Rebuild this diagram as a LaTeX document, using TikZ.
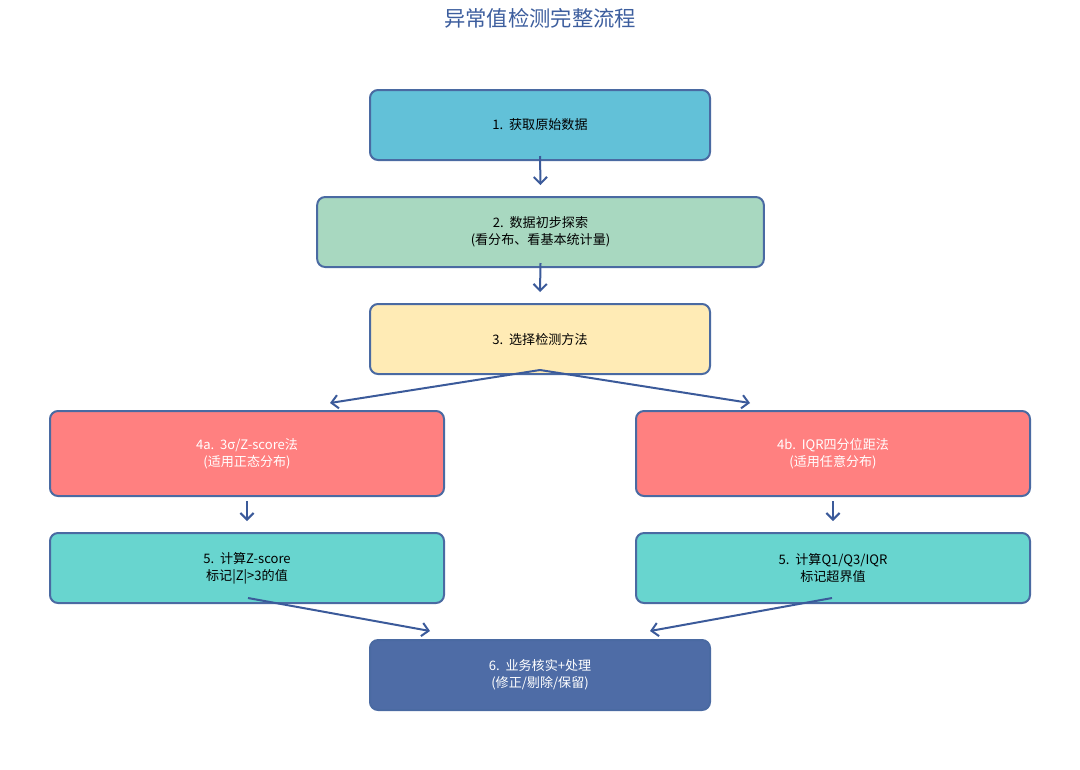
\documentclass[tikz,border=0pt]{standalone}
\usepackage{fontspec}
\setmainfont{Noto Sans CJK SC}
\usetikzlibrary{arrows.meta}
\definecolor{edge}{HTML}{4A6AA2}
\definecolor{arr}{HTML}{3B5A9A}
\definecolor{titlec}{HTML}{3D5E9E}
\definecolor{cA}{HTML}{62C1D8}
\definecolor{cB}{HTML}{A8D8C0}
\definecolor{cC}{HTML}{FFEBB5}
\definecolor{cD}{HTML}{FF8080}
\definecolor{cE}{HTML}{68D5CF}
\definecolor{cF}{HTML}{4E6CA6}
\tikzset{
  box/.style={draw=edge, line width=1.5pt, rounded corners=6pt, align=center,
    font=\fontsize{9.8}{12.5}\selectfont, inner sep=0pt},
  flow/.style={draw=arr, line width=1.5pt, -{Straight Barb[length=5pt,width=10pt,line width=1.5pt]}}
}
\begin{document}
\begin{tikzpicture}[x=0.75pt,y=-0.75pt]
\useasboundingbox (0,0) rectangle (1080,769);
\node[text=titlec, font=\fontsize{16}{19}\selectfont] (title) at (540,18) {异常值检测完整流程};
\node[box, fill=cA, minimum width=255pt, minimum height=52.5pt] (n1) at (540,125) {1.\ \ 获取原始数据};
\node[box, fill=cB, minimum width=335pt, minimum height=52.5pt] (n2) at (540.5,232) {2.\ \ 数据初步探索\\(看分布、看基本统计量)};
\node[box, fill=cC, minimum width=255pt, minimum height=52.5pt] (n3) at (540,339) {3.\ \ 选择检测方法};
\node[box, fill=cD, text=white, minimum width=295.5pt, minimum height=63.75pt] (n4a) at (247,453.5) {4a.\ \ 3σ/Z-score法\\(适用正态分布)};
\node[box, fill=cD, text=white, minimum width=295.5pt, minimum height=63.75pt] (n4b) at (833,453.5) {4b.\ \ IQR四分位距法\\(适用任意分布)};
\node[box, fill=cE, minimum width=295.5pt, minimum height=52.5pt] (n5a) at (247,568) {5.\ \ 计算Z-score\\标记|Z|>3的值};
\node[box, fill=cE, minimum width=295.5pt, minimum height=52.5pt] (n5b) at (833,568) {5.\ \ 计算Q1/Q3/IQR\\标记超界值};
\node[box, fill=cF, text=white, minimum width=255pt, minimum height=52.5pt] (n6) at (540,675) {6.\ \ 业务核实+处理\\(修正/剔除/保留)};
\draw[flow] ([yshift=3.75pt]n1.south) -- ([yshift=8.25pt]n2.north);
\draw[flow] ([yshift=3.75pt]n2.south) -- ([yshift=8.25pt]n3.north);
\draw[flow] ([yshift=3.75pt]n3.south) -- ([xshift=62.25pt,yshift=5.25pt]n4a.north);
\draw[flow] ([yshift=3.75pt]n3.south) -- ([xshift=-62.25pt,yshift=5.25pt]n4b.north);
\draw[flow] ([yshift=-3pt]n4a.south) -- ([yshift=8.25pt]n5a.north);
\draw[flow] ([yshift=-3pt]n4b.south) -- ([yshift=8.25pt]n5b.north);
\draw[flow] ([xshift=0.75pt,yshift=4.5pt]n5a.south) -- ([xshift=-82.5pt,yshift=6pt]n6.north);
\draw[flow] ([xshift=-0.75pt,yshift=4.5pt]n5b.south) -- ([xshift=82.5pt,yshift=6pt]n6.north);
\end{tikzpicture}
\end{document}
